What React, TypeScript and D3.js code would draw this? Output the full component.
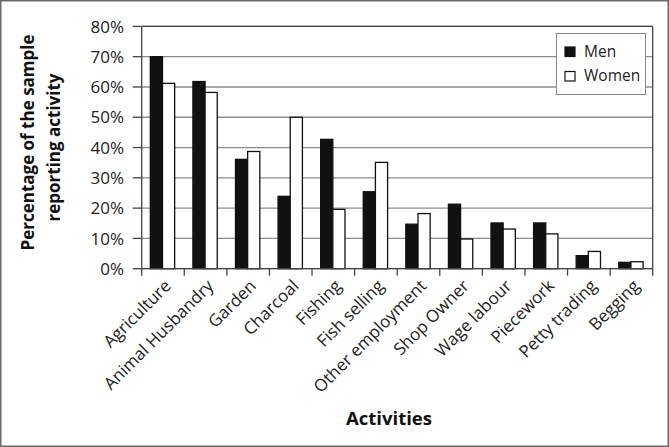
import React from "react";
import * as d3 from "d3";

const categories = [
  "Agriculture",
  "Animal Husbandry",
  "Garden",
  "Charcoal",
  "Fishing",
  "Fish selling",
  "Other employment",
  "Shop Owner",
  "Wage labour",
  "Piecework",
  "Petty trading",
  "Begging",
];
const men = [70, 61.8, 36.1, 23.9, 42.7, 25.4, 14.7, 21.3, 15.1, 15.1, 4.3, 2.1];
const women = [61.2, 58.2, 38.7, 50, 19.6, 35.1, 18.2, 9.8, 13.1, 11.5, 5.7, 2.3];
const seriesNames = ["Men", "Women"];
const yTicks = [0, 10, 20, 30, 40, 50, 60, 70, 80];

const W = 669;
const H = 447;
const L = 141.7;
const R = 652.7;
const T = 26.4;
const B = 268.7;
const FONT = "'Open Sans', 'DejaVu Sans', sans-serif";

export default function App() {
  const x0 = d3.scaleBand<string>().domain(categories).range([L, R]).padding(0);
  const x1 = d3
    .scaleBand<string>()
    .domain(seriesNames)
    .range([0, x0.bandwidth()])
    .paddingInner(0)
    .paddingOuter(0.75);
  const y = d3.scaleLinear().domain([0, 80]).range([B, T]);
  const values = [men, women];
  const fills = ["#111111", "#ffffff"];

  return (
    <div style={{ position: "fixed", left: 0, top: 0 }}>
      <svg width={W} height={H} style={{ display: "block", background: "#fff" }}>
        <rect x={0.75} y={0.75} width={W - 1.5} height={H - 1.5} fill="#fff" stroke="#6a6a6a" strokeWidth={1.5} />
        {/* gridlines */}
        {yTicks.map((t) => (
          <line key={"g" + t} x1={L} x2={R} y1={y(t)} y2={y(t)} stroke="#8c8c8c" strokeWidth={1.3} />
        ))}
        {/* plot frame top & right */}
        <line x1={L} x2={R} y1={T} y2={T} stroke="#444" strokeWidth={1.3} />
        <line x1={R} x2={R} y1={T} y2={B} stroke="#444" strokeWidth={1.3} />
        {/* bars */}
        {categories.map((c, i) => (
          <g key={c}>
            {seriesNames.map((s, j) => (
              <rect
                key={s}
                x={(x0(c) as number) + (x1(s) as number) - 0.5}
                y={y(values[j][i])}
                width={x1.bandwidth()}
                height={B - y(values[j][i])}
                fill={fills[j]}
                stroke="#111"
                strokeWidth={1.3}
              />
            ))}
          </g>
        ))}
        {/* y axis */}
        <line x1={L} x2={L} y1={T} y2={B} stroke="#444" strokeWidth={1.3} />
        {yTicks.map((t) => (
          <g key={"t" + t}>
            <line x1={L - 9} x2={L} y1={y(t)} y2={y(t)} stroke="#444" strokeWidth={1.3} />
            <text
              x={124}
              y={y(t)}
              dy="0.36em"
              textAnchor="end"
              fontFamily={FONT}
              fontSize={17}
              fill="#222"
            >
              {t + "%"}
            </text>
          </g>
        ))}
        {/* x axis */}
        <line x1={L} x2={R} y1={B} y2={B} stroke="#444" strokeWidth={1.3} />
        {d3.range(categories.length + 1).map((k) => {
          const xx = L + k * x0.step();
          return <line key={"xt" + k} x1={xx} x2={xx} y1={B} y2={B + 7} stroke="#444" strokeWidth={1.3} />;
        })}
        {categories.map((c) => {
          const cx = (x0(c) as number) + x0.bandwidth() / 2 + 9;
          const cy = 287;
          return (
            <text
              key={"l" + c}
              transform={`translate(${cx},${cy}) rotate(-45)`}
              textAnchor="end"
              fontFamily={FONT}
              fontSize={17}
              fill="#222"
            >
              {c}
            </text>
          );
        })}
        {/* axis titles */}
        <text
          transform="translate(34,142.5) rotate(-90)"
          textAnchor="middle"
          fontFamily={FONT}
          fontSize={17}
          fontWeight="bold"
          fill="#111"
        >
          Percentage of the sample
        </text>
        <text
          transform="translate(60,147.5) rotate(-90)"
          textAnchor="middle"
          fontFamily={FONT}
          fontSize={17}
          fontWeight="bold"
          fill="#111"
        >
          reporting activity
        </text>
        <text x={389} y={425} textAnchor="middle" fontFamily={FONT} fontSize={18.5} fontWeight="bold" fill="#111">
          Activities
        </text>
        {/* legend */}
        <rect x={556.5} y={33.5} width={89} height={61} fill="#fff" stroke="#888" strokeWidth={1} />
        {seriesNames.map((s, j) => (
          <g key={"lg" + s}>
            <rect
              x={565}
              y={47 + j * 24.5}
              width={10}
              height={9.5}
              fill={fills[j]}
              stroke="#111"
              strokeWidth={1.2}
            />
            <text x={584} y={56.5 + j * 24.5} fontFamily={FONT} fontSize={15.5} fill="#222">
              {s}
            </text>
          </g>
        ))}
      </svg>
    </div>
  );
}
